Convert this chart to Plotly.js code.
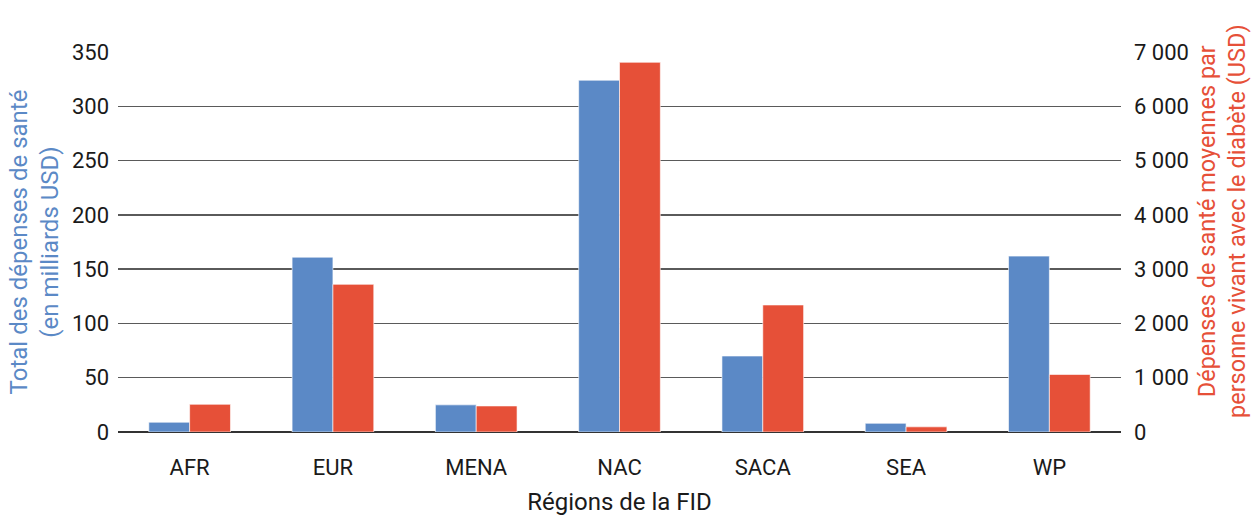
<!DOCTYPE html>
<html>
<head>
<meta charset="utf-8">
<script src="https://cdn.plot.ly/plotly-3.0.1.min.js"></script>
<style>html,body{margin:0;padding:0;background:#fff;}#chart{width:1253px;height:516px;}</style>
</head>
<body>
<div id="chart"></div>
<script>
const regions = ["AFR", "EUR", "MENA", "NAC", "SACA", "SEA", "WP"];
const totalSpending = [9, 161, 25, 324, 70, 8, 162];          // milliards USD (axe gauche)
const meanPerPerson = [510, 2720, 480, 6810, 2340, 95, 1060]; // USD (axe droit)

const leftTitle = "Total des dépenses de santé<br>(en milliards USD)";
const rightTitle = "Dépenses de santé moyennes par<br>personne vivant avec le diabète (USD)";
const xTitle = "Régions de la FID";

const BLUE = "#5b89c6", RED = "#e65038";
const FONT = "Roboto, 'DejaVu Sans', sans-serif";

const traces = [
  {type: "bar", name: "Total", x: regions, y: totalSpending, yaxis: "y",
   offsetgroup: "a", marker: {color: BLUE, line: {color: "rgba(255,255,255,0.6)", width: 1}}},
  {type: "bar", name: "Moyenne", x: regions, y: meanPerPerson, yaxis: "y2",
   offsetgroup: "b", marker: {color: RED, line: {color: "rgba(255,255,255,0.6)", width: 1}}}
];

const layout = {
  width: 1253, height: 516,
  margin: {l: 118, r: 132, t: 52, b: 84},
  paper_bgcolor: "#fff", plot_bgcolor: "#fff",
  showlegend: false,
  separators: ", ",
  barmode: "group",
  bargap: 0.43, bargroupgap: 0,
  font: {family: FONT, size: 22, color: "#1a1a1a"},
  xaxis: {
    showgrid: false, zeroline: false, showline: false, ticks: "",
    ticklabelstandoff: 20,
    tickfont: {family: FONT, size: 22, color: "#1a1a1a"},
    title: {text: xTitle, standoff: 22, font: {family: FONT, size: 24, color: "#1a1a1a"}}
  },
  yaxis: {
    range: [0, 350], dtick: 50, tick0: 0,
    showgrid: true, gridcolor: "#5a5a5a", gridwidth: 1.5,
    zeroline: true, zerolinecolor: "#333", zerolinewidth: 1.5,
    showline: false, ticks: "", ticklabelstandoff: 8,
    tickfont: {family: FONT, size: 22, color: "#1a1a1a"},
    title: {text: leftTitle, standoff: 6, font: {family: FONT, size: 24, color: BLUE}}
  },
  yaxis2: {
    overlaying: "y", side: "right",
    range: [0, 7000], dtick: 1000, tick0: 0, tickformat: ",d",
    showgrid: false, zeroline: false, showline: false,
    ticks: "", ticklabelstandoff: 12,
    tickfont: {family: FONT, size: 22, color: "#1a1a1a"}
  },
  annotations: [{
    text: rightTitle, textangle: -90, showarrow: false,
    xref: "paper", yref: "paper", x: 1.101, y: 0.556,
    xanchor: "center", yanchor: "middle",
    font: {family: FONT, size: 23.5, color: RED}
  }]
};

Plotly.newPlot("chart", traces, layout, {displayModeBar: false, staticPlot: true});
</script>
</body>
</html>
